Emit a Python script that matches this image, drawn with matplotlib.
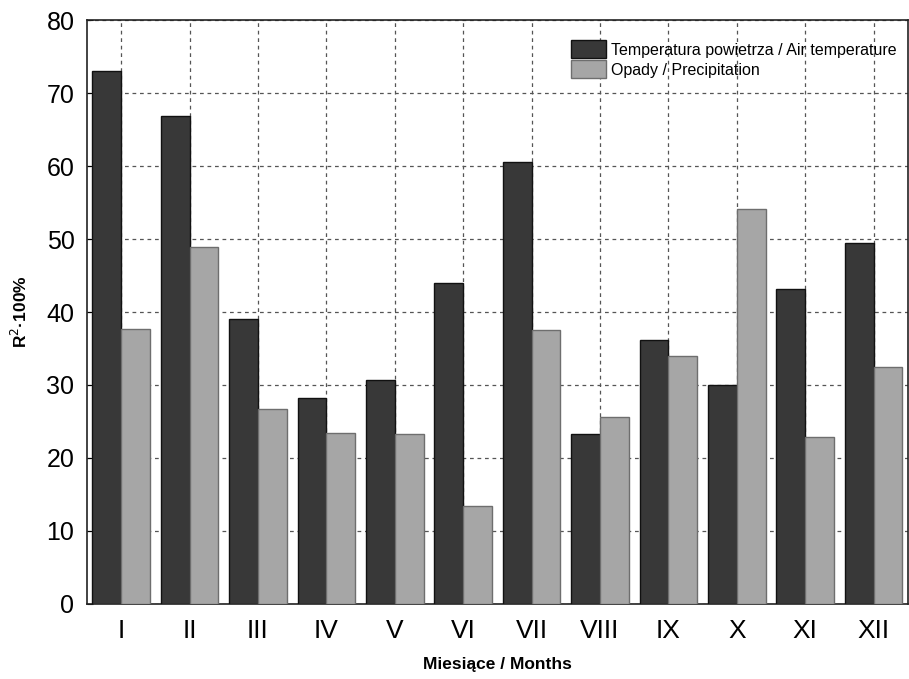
import numpy as np
import matplotlib
matplotlib.use('Agg')
import matplotlib.pyplot as plt
from matplotlib.patches import Patch
from matplotlib import font_manager

plt.rcParams['font.family'] = ['Liberation Sans', 'DejaVu Sans']

months = ['I', 'II', 'III', 'IV', 'V', 'VI', 'VII', 'VIII', 'IX', 'X', 'XI', 'XII']
temperature = [73.0, 66.9, 39.0, 28.2, 30.7, 44.0, 60.6, 23.3, 36.1, 30.0, 43.1, 49.4]
precipitation = [37.7, 48.9, 26.7, 23.4, 23.3, 13.4, 37.5, 25.6, 34.0, 54.1, 22.9, 32.4]
y_ticks = [0, 10, 20, 30, 40, 50, 60, 70, 80]

names = {f.name for f in font_manager.fontManager.ttflist}
narrow = 'Liberation Sans Narrow' if 'Liberation Sans Narrow' in names else 'Liberation Sans'
print(narrow)

fig = plt.figure(figsize=(9.09, 6.79), dpi=100)
ax = fig.add_axes([0.0957, 0.1105, 0.903, 0.86])

x = np.arange(len(months))
w = 0.42
ax.bar(x - w / 2, temperature, w, color='#383838', edgecolor='#111111', linewidth=1.0, zorder=3)
ax.bar(x + w / 2, precipitation, w, color='#a6a6a6', edgecolor='#6e6e6e', linewidth=1.0, zorder=3)

ax.set_xlim(-0.5, 11.5)
ax.set_ylim(0, 80)
ax.set_yticks(y_ticks)
ax.set_xticks(x)
ax.set_xticklabels(months, fontsize=19)
ax.tick_params(axis='y', direction='in', labelsize=18, length=4, pad=9)
ax.tick_params(axis='x', length=0, pad=11)
ax.grid(True, linestyle=(0, (3, 3)), color='#555555', linewidth=0.9, zorder=0)
ax.set_axisbelow(True)
for s in ax.spines.values():
    s.set_linewidth(1.2)
    s.set_color('#222222')

ax.set_ylabel('R$^2$·100%', fontsize=12.5, fontweight='bold', labelpad=12)
ax.set_xlabel('Miesiące / Months', fontsize=12.5, fontweight='bold', labelpad=10)

handles = [Patch(facecolor='#383838', edgecolor='#111111'),
           Patch(facecolor='#a6a6a6', edgecolor='#6e6e6e')]
fsize = 13.5 if narrow != 'Liberation Sans' else 11.5
ax.legend(handles, ['Temperatura powietrza / Air temperature', 'Opady / Precipitation'],
          loc='upper right', bbox_to_anchor=(1.0, 0.985), frameon=False,
          prop={'family': [narrow, 'DejaVu Sans'], 'size': fsize},
          handlelength=2.2, handleheight=1.4, handletextpad=0.3, labelspacing=0.1,
          borderaxespad=0.3)

fig.savefig('out.png', dpi=100)
